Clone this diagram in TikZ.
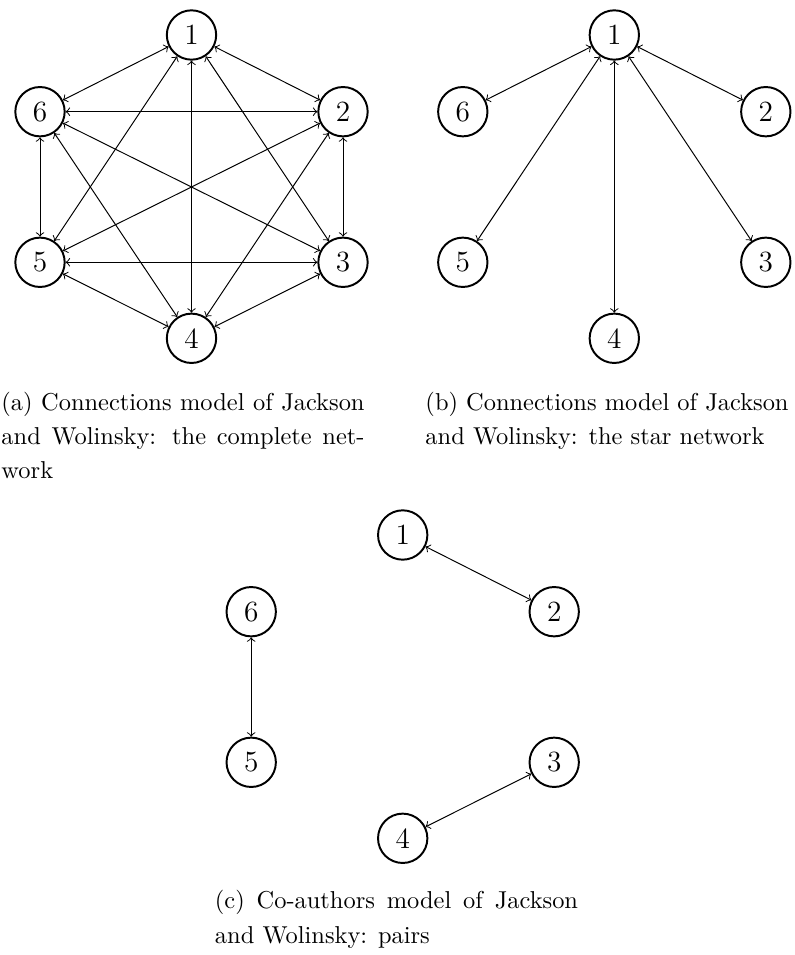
\documentclass[tikz,border=0pt]{standalone}
\begin{document}
\def\capw{148.6pt}
\begin{tikzpicture}[x=0.4093pt,y=-0.4093pt,
  vert/.style={circle,draw,thick,minimum size=20.2pt,inner sep=0pt,font=\large},
  link/.style={<->,thin},
  captext/.style={anchor=base west,inner sep=0pt,font=\normalsize}]
\useasboundingbox (0,0) rectangle (794,955);
% (a) complete network
\node[vert] (a1) at (191.5,35) {1};
\node[vert] (a2) at (343,111.7) {2};
\node[vert] (a3) at (343,262.3) {3};
\node[vert] (a4) at (191.5,338.3) {4};
\node[vert] (a5) at (40,262.3) {5};
\node[vert] (a6) at (40,111.7) {6};
\foreach \i/\j in {1/2,1/3,1/4,1/5,1/6,2/3,2/4,2/5,2/6,3/4,3/5,3/6,4/5,4/6,5/6}
  \draw[link] (a\i) -- (a\j);
% (b) star network
\node[vert] (b1) at (614.3,35) {1};
\node[vert] (b2) at (765.8,111.7) {2};
\node[vert] (b3) at (765.8,262.3) {3};
\node[vert] (b4) at (614.3,338.3) {4};
\node[vert] (b5) at (462.8,262.3) {5};
\node[vert] (b6) at (462.8,111.7) {6};
\foreach \j in {2,3,4,5,6}
  \draw[link] (b1) -- (b\j);
% (c) pairs
\node[vert] (c1) at (402.7,535) {1};
\node[vert] (c2) at (554.2,611.7) {2};
\node[vert] (c3) at (554.2,762.3) {3};
\node[vert] (c4) at (402.7,838.3) {4};
\node[vert] (c5) at (251.2,762.3) {5};
\node[vert] (c6) at (251.2,611.7) {6};
\draw[link] (c1) -- (c2);
\draw[link] (c6) -- (c5);
\draw[link] (c4) -- (c3);
% captions
\node[captext] (capa1) at (1,410) {\hbox to \capw{(a) Connections model of Jackson}};
\node[captext] (capa2) at (1,444) {\hbox to \capw{and Wolinsky: the complete net-}};
\node[captext] (capa3) at (1,478) {work};
\node[captext] (capb1) at (425,410) {\hbox to \capw{(b) Connections model of Jackson}};
\node[captext] (capb2) at (425,444) {and Wolinsky: the star network};
\node[captext] (capc1) at (214.5,908) {\hbox to \capw{(c) Co-authors model of Jackson}};
\node[captext] (capc2) at (214.5,943) {and Wolinsky: pairs};
\end{tikzpicture}
\end{document}
